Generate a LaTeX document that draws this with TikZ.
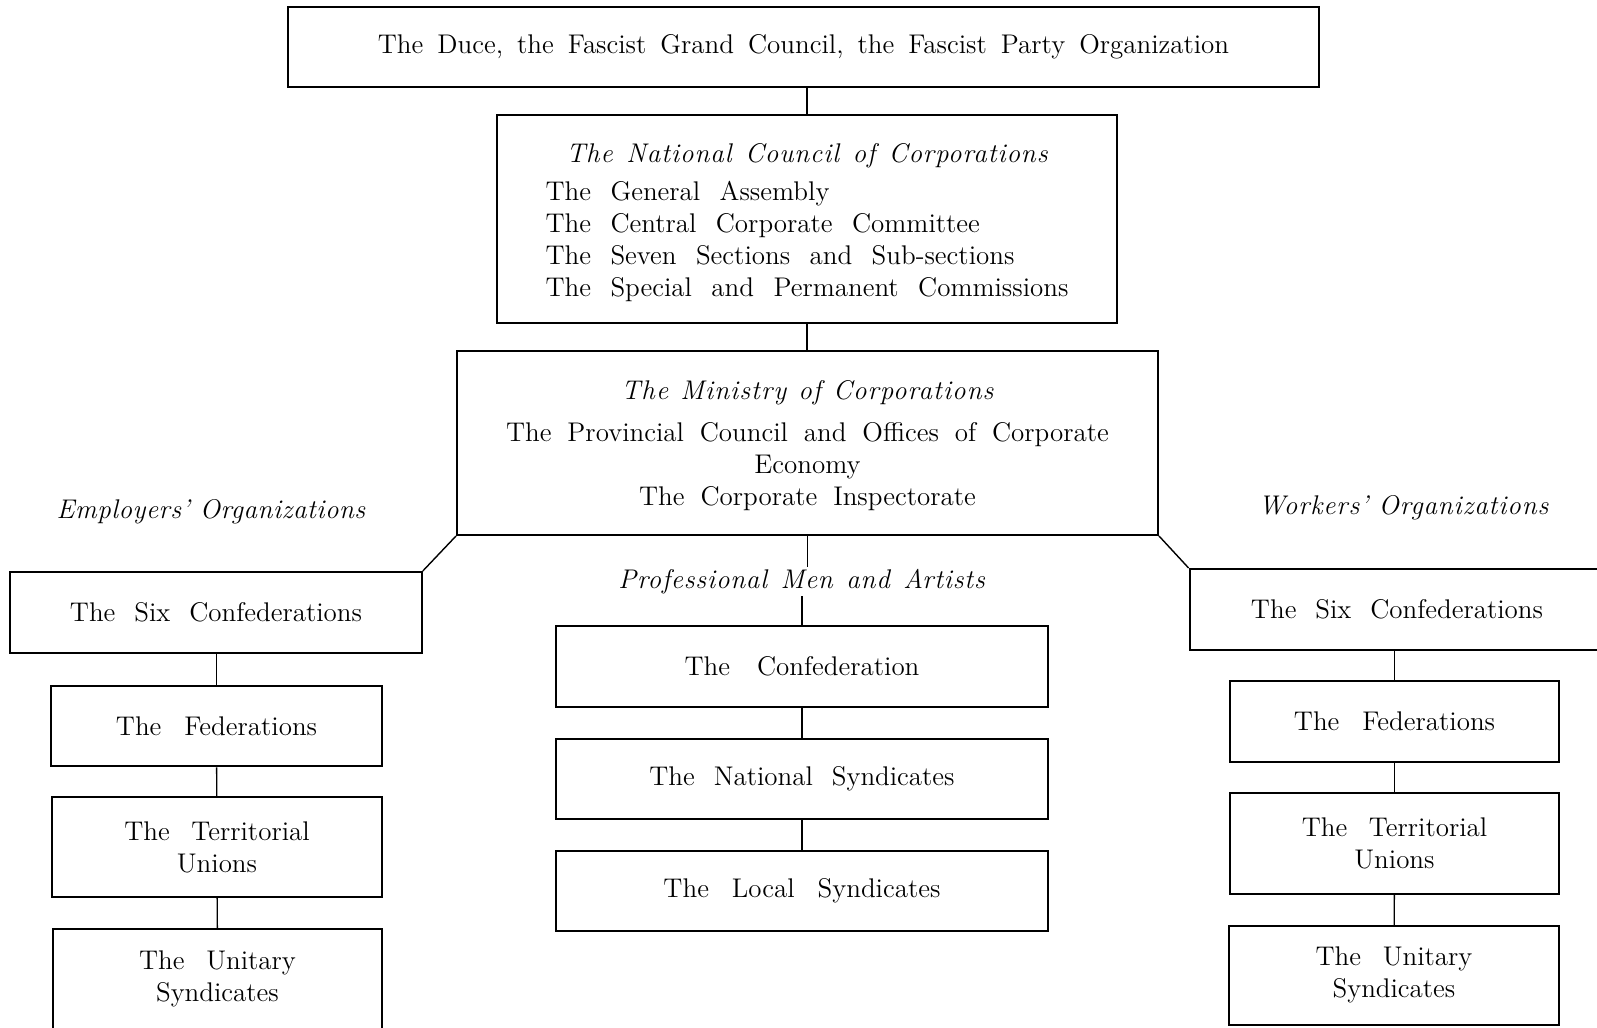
\documentclass[tikz,border=0pt]{standalone}
\usepackage{fontspec}
\setmainfont{lmroman12-regular.otf}[ItalicFont=lmroman12-italic.otf, BoldFont=lmroman12-bold.otf]
\newcommand\mainsz{\fontsize{13.5}{16}\selectfont}
\newcommand\wsp[1]{\spaceskip=#1em plus 0.1em minus 0.05em\relax}
\newcommand\lsp[1]{\addfontfeatures{LetterSpace=#1}}
\tikzset{
  box/.style={draw, line width=1pt, inner sep=0pt, align=center, font=\mainsz},
  conn/.style={line width=0.7pt},
  lbl/.style={inner sep=1pt, font=\mainsz\itshape}
}
\begin{document}
\begin{tikzpicture}[x=0.5pt,y=-0.5pt]
\clip (0,0) rectangle (1597,1028);
\fill[white] (0,0) rectangle (1597,1028);
% centre column
\node[box, minimum width=515.5pt, minimum height=40pt] (top) at (803.5,47)
  {\wsp{0.52}The Duce, the Fascist Grand Council, the Fascist Party Organization};
\node[box, minimum width=310pt, minimum height=104pt] (ncc) at (807,219)
  {\raisebox{-2pt}[\height][\depth]{\wsp{0.72}\begin{tabular}{@{}l@{}}\multicolumn{1}{@{}c@{}}{\itshape\lsp{3.5}\wsp{0.5}The National Council of Corporations}\\[3pt]
   The General Assembly\\ The Central Corporate Committee\\ The Seven Sections and Sub-sections\\
   The Special and Permanent Commissions\end{tabular}}};
\node[box, minimum width=350.5pt, minimum height=92pt] (min) at (807.5,443)
  {\raisebox{-1.5pt}[\height][\depth]{\wsp{0.59}\begin{tabular}{@{}c@{}}{\itshape\lsp{4}\wsp{0.45}The Ministry of Corporations}\\[5pt]
   The Provincial Council and Offices of Corporate\\ Economy\\ The Corporate Inspectorate\end{tabular}}};
\node[lbl] (prof) at (801.6,581.5) {\lsp{3}\wsp{0.5}Professional Men and Artists};
\node[box, minimum width=246pt, minimum height=40.5pt] (conf) at (802,666.5) {\wsp{1.0}The Confederation};
\node[box, minimum width=246pt, minimum height=40pt] (nats) at (802,779) {\wsp{0.7}The National Syndicates};
\node[box, minimum width=246pt, minimum height=40pt] (locs) at (802,891) {\wsp{0.85}The Local Syndicates};
% left column
\node[lbl] (empl) at (211,512) {\lsp{2}Employers' Organizations};
\node[box, minimum width=205.8pt, minimum height=40.5pt] (sixL) at (216,612.5) {\wsp{0.7}The Six Confederations};
\node[box, minimum width=165.5pt, minimum height=40.25pt] (fedL) at (216.5,726) {\wsp{0.85}The Federations};
\node[box, minimum width=165pt, minimum height=49.75pt] (terL) at (217,847) {\wsp{0.8}The Territorial\\Unions};
\node[box, minimum width=164.5pt, minimum height=49.75pt] (uniL) at (217.5,978.75) {\wsp{0.8}The Unitary\\Syndicates};
% right column
\node[lbl] (work) at (1403.5,508) {\lsp{3.3}Workers' Organizations};
\node[box, minimum width=207.4pt, minimum height=40.5pt] (sixR) at (1397,609.5) {\wsp{0.7}The Six Confederations};
\node[box, minimum width=164.5pt, minimum height=40.5pt] (fedR) at (1394.5,721.5) {\wsp{0.85}The Federations};
\node[box, minimum width=164.5pt, minimum height=50.5pt] (terR) at (1394.5,843.5) {\wsp{0.8}The Territorial\\Unions};
\node[box, minimum width=165pt, minimum height=49.3pt] (uniR) at (1394,975.3) {\wsp{0.8}The Unitary\\Syndicates};
% connectors
\draw[conn] (ncc.north) -- (ncc.north |- top.south);
\draw[conn] (ncc.south) -- (ncc.south |- min.north);
\draw[conn] (min.south) -- (min.south |- prof.north);
\draw[conn] (conf.north) -- (conf.north |- prof.south);
\draw[conn] (conf) -- (nats);
\draw[conn] (nats) -- (locs);
\draw[conn] (min.south west) -- (sixL.north east);
\draw[conn] (min.south east) -- (sixR.north west);
\draw[conn] (sixL.south) -- (sixL.south -| fedL.north) -- (fedL.north);
\draw[conn] (fedL) -- (terL);
\draw[conn] (terL) -- (uniL);
\draw[conn] (sixR.south -| fedR.north) -- (fedR.north);
\draw[conn] (fedR) -- (terR);
\draw[conn] (terR) -- (uniR);
\end{tikzpicture}
\end{document}
